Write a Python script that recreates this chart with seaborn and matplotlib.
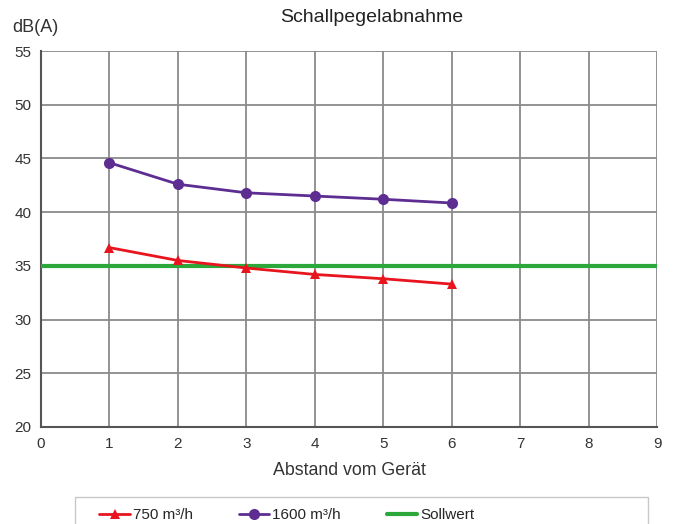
import matplotlib
matplotlib.use("Agg")
import matplotlib.pyplot as plt
import seaborn as sns
import pandas as pd
from matplotlib.patches import Rectangle

distance = [1, 2, 3, 4, 5, 6]
level_750 = [36.7, 35.5, 34.8, 34.2, 33.8, 33.3]
level_1600 = [44.6, 42.6, 41.8, 41.5, 41.2, 40.85]
sollwert = 35
x_ticks = [0, 1, 2, 3, 4, 5, 6, 7, 8, 9]
y_ticks = [20, 25, 30, 35, 40, 45, 50, 55]

sns.set_style("white")
plt.rcParams['font.family'] = ['Liberation Sans', 'DejaVu Sans']

fig = plt.figure(figsize=(6.75, 5.24), dpi=100)
ax = fig.add_axes([41/675, 1-427/524, 616/675, 376/524])

df750 = pd.DataFrame({"x": distance, "y": level_750})
df1600 = pd.DataFrame({"x": distance, "y": level_1600})

ax.axhline(sollwert, color="#2ca83a", lw=3, zorder=3, label="Sollwert")
sns.lineplot(data=df750, x="x", y="y", ax=ax, color="#e8141e", marker="^",
             markersize=7, markeredgewidth=0, lw=2, label="750 m³/h", zorder=4)
sns.lineplot(data=df1600, x="x", y="y", ax=ax, color="#5d2d91", marker="o",
             markersize=8, markeredgewidth=0, lw=2, label="1600 m³/h", zorder=4)

ax.set_xlim(0, 9)
ax.set_ylim(20, 55)
ax.set_xticks(x_ticks)
ax.set_yticks(y_ticks)
ax.grid(True, color="#8a8a8a", lw=1.3)
ax.set_axisbelow(True)
for s in ["top", "right"]:
    ax.spines[s].set_visible(False)
for s in ["left", "bottom"]:
    ax.spines[s].set_color("#555555")
    ax.spines[s].set_linewidth(1.5)
ax.tick_params(axis="both", direction="inout", length=6, width=1.2, color="#555555",
               labelsize=11, labelcolor="#333333", pad=4)
ax.set_xlabel("Abstand vom Gerät", fontsize=12.8, color="#333333", labelpad=8)
ax.set_ylabel("")
fig.text(12/675, 1-28/524, "dB(A)", fontsize=13, color="#333333", va="center", ha="left")
fig.text(372/675, 1-18/524, "Schallpegelabnahme", fontsize=14, color="#222222", va="center", ha="center")

handles, labels = ax.get_legend_handles_labels()
order = [labels.index("750 m³/h"), labels.index("1600 m³/h"), labels.index("Sollwert")]
ax.legend([handles[i] for i in order], [labels[i] for i in order], ncol=3,
          frameon=False, loc="center", bbox_to_anchor=(287/675, 1-515/524),
          bbox_transform=fig.transFigure, fontsize=11, handlelength=2.0,
          handletextpad=0.2, columnspacing=3.0)
fig.patches.append(Rectangle((75/675, -0.01), 573/675, 1-497/524 + 0.01,
                             transform=fig.transFigure, fill=False,
                             edgecolor="#c8c8c8", lw=1))

fig.savefig("out.png", dpi=100)
